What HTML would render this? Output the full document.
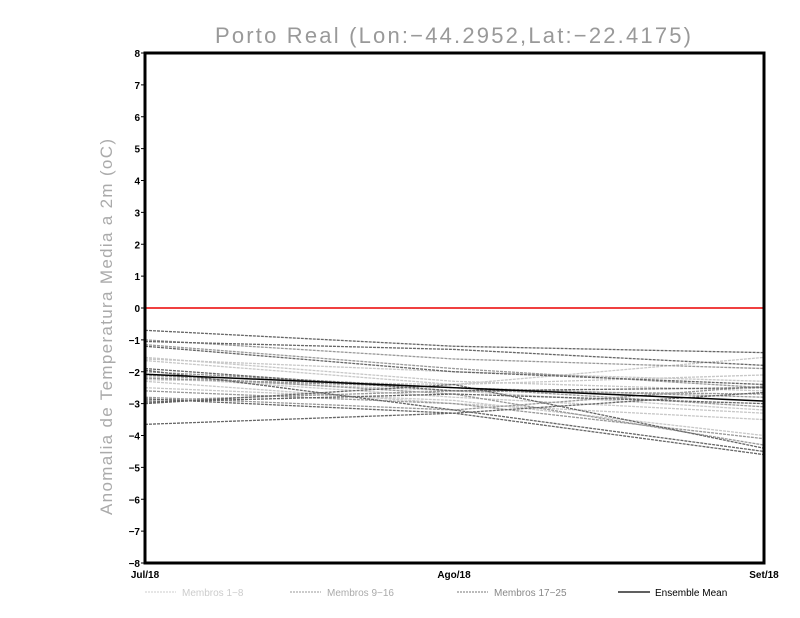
<!DOCTYPE html>
<html><head><meta charset="utf-8"><style>
html,body{margin:0;padding:0;background:#fff;}
svg{display:block;font-family:"Liberation Sans",sans-serif;}
.t{font-size:10px;font-weight:bold;fill:#000;}
</style></head><body>
<svg id="s" width="800" height="618" viewBox="0 0 800 618" xmlns="http://www.w3.org/2000/svg">
<rect width="800" height="618" fill="#fff"/>
<text x="453" y="43" text-anchor="middle" font-size="22" fill="#999" textLength="476" lengthAdjust="spacing">Porto Real (Lon:−44.2952,Lat:−22.4175)</text>
<text transform="translate(112,327) rotate(-90)" text-anchor="middle" font-size="17" fill="#aaa" textLength="376" lengthAdjust="spacing">Anomalia de Temperatura Media a 2m (oC)</text>
<g id="lines"></g>
<line x1="145" y1="308" x2="764" y2="308" stroke="#f04040" stroke-width="2"/>
<rect x="145" y="53" width="619" height="510" fill="none" stroke="#000" stroke-width="3"/>
<g id="ticks"></g>
<text class="t" x="145" y="578" text-anchor="middle">Jul/18</text>
<text class="t" x="454" y="578" text-anchor="middle">Ago/18</text>
<text class="t" x="764" y="578" text-anchor="middle">Set/18</text>
<line x1="145" y1="592" x2="176" y2="592" stroke="#ccc" stroke-dasharray="2,1"/>
<text x="182" y="596" font-size="10" fill="#ccc">Membros 1−8</text>
<line x1="290" y1="592" x2="321" y2="592" stroke="#999" stroke-dasharray="2,1"/>
<text x="327" y="596" font-size="10" fill="#aaa">Membros 9−16</text>
<line x1="457" y1="592" x2="488" y2="592" stroke="#777" stroke-dasharray="2,1"/>
<text x="494" y="596" font-size="10" fill="#888">Membros 17−25</text>
<line x1="618" y1="592" x2="650" y2="592" stroke="#000" stroke-width="1.3"/>
<text x="655" y="596" font-size="10" fill="#000">Ensemble Mean</text>
</svg>
<script>
var Y=function(v){return 308-v*31.875;};
var X=[145,454,764];
var ns="http://www.w3.org/2000/svg";
var g=document.getElementById("lines"),tk=document.getElementById("ticks");
var d=[
[-1.55,-2.3,-2.6],[-1.6,-2.0,-2.3],[-2.2,-2.6,-3.2],[-2.3,-3.0,-3.5],[-2.5,-2.9,-4.0],[-1.65,-2.4,-2.1],[-2.15,-2.8,-3.3],[-2.25,-2.4,-1.55],
[-1.0,-1.6,-1.9],[-2.0,-2.5,-2.8],[-2.1,-2.7,-4.3],[-2.8,-3.2,-2.45],[-1.15,-1.9,-2.5],[-2.2,-2.5,-3.1],[-2.6,-3.0,-4.1],[-2.9,-2.6,-2.7],
[-0.7,-1.2,-1.4],[-1.05,-1.3,-1.8],[-1.2,-2.0,-2.4],[-1.9,-2.6,-2.5],[-1.95,-3.2,-4.5],[-2.85,-3.3,-4.6],[-2.95,-2.7,-3.0],[-3.65,-3.3,-2.65],[-3.0,-2.4,-4.4]];
d.forEach(function(r,i){var p=document.createElementNS(ns,"polyline");
p.setAttribute("points",r.map(function(v,j){return X[j]+","+Y(v)}).join(" "));
p.setAttribute("fill","none");p.setAttribute("stroke",i<8?"#c8c8c8":i<16?"#999":"#666");
p.setAttribute("stroke-width","1.3");p.setAttribute("stroke-dasharray","3,1");g.appendChild(p);});
var m=document.createElementNS(ns,"polyline");
m.setAttribute("points",X[0]+","+Y(-2.08)+" "+X[1]+","+Y(-2.5)+" "+X[2]+","+Y(-2.92));
m.setAttribute("fill","none");m.setAttribute("stroke","#000");m.setAttribute("stroke-width","1.5");g.appendChild(m);
for(var v=-8;v<=8;v++){var l=document.createElementNS(ns,"line");
l.setAttribute("x1",141);l.setAttribute("x2",145);l.setAttribute("y1",Y(v));l.setAttribute("y2",Y(v));l.setAttribute("stroke","#000");tk.appendChild(l);
var t=document.createElementNS(ns,"text");t.setAttribute("class","t");t.setAttribute("x",140);t.setAttribute("y",Y(v)+4);t.setAttribute("text-anchor","end");
t.textContent=(v<0?"−":"")+Math.abs(v);tk.appendChild(t);}
</script>
</body></html>
